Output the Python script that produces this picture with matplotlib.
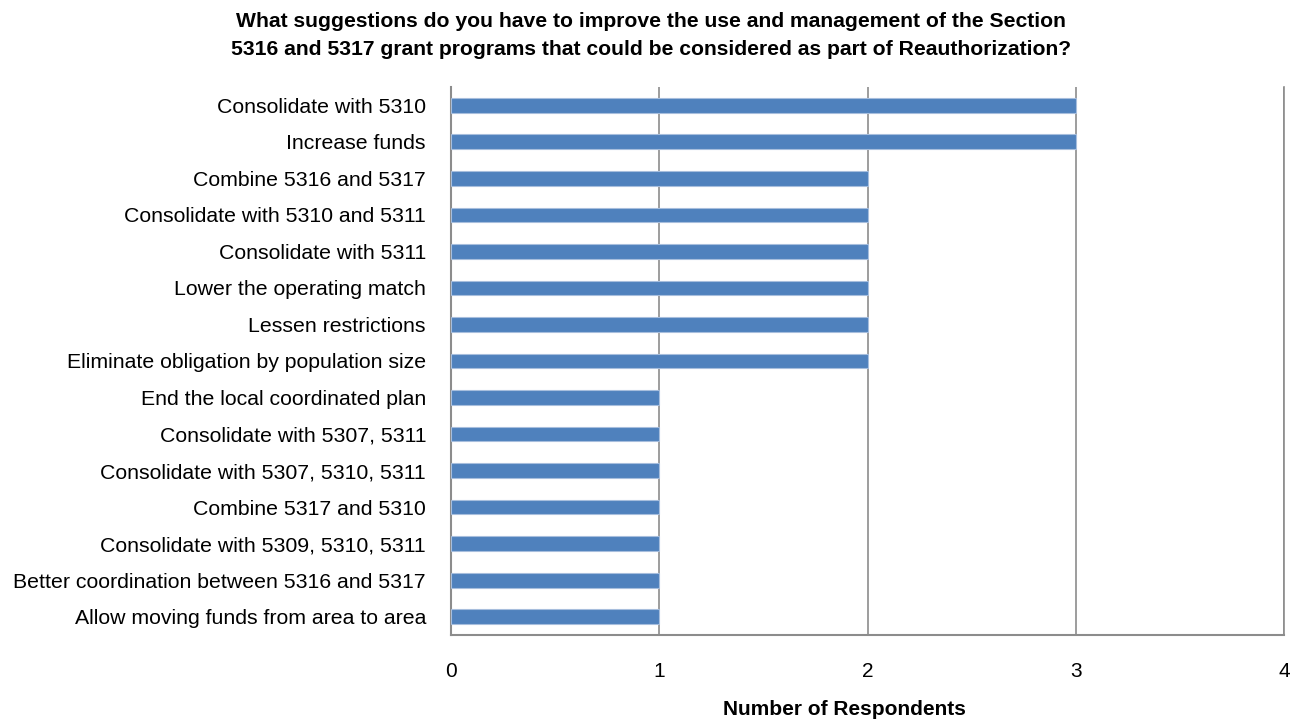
import matplotlib
matplotlib.use("Agg")
import matplotlib.pyplot as plt

categories = [
    "Consolidate with 5310",
    "Increase funds",
    "Combine 5316 and 5317",
    "Consolidate with 5310 and 5311",
    "Consolidate with 5311",
    "Lower the operating match",
    "Lessen restrictions",
    "Eliminate obligation by population size",
    "End the local coordinated plan",
    "Consolidate with 5307, 5311",
    "Consolidate with 5307, 5310, 5311",
    "Combine 5317 and 5310",
    "Consolidate with 5309, 5310, 5311",
    "Better coordination between 5316 and 5317",
    "Allow moving funds from area to area",
]
values = [3, 3, 2, 2, 2, 2, 2, 2, 1, 1, 1, 1, 1, 1, 1]
xticks = [0, 1, 2, 3, 4]

plt.rcParams['font.family'] = ['Liberation Sans', 'DejaVu Sans']

fig = plt.figure(figsize=(12.91, 7.21), dpi=100)
ax = fig.add_axes([451/1291, 1-635/721, (1284-451)/1291, (635-87)/721])

ypos = list(range(len(categories)))
ax.barh(ypos, values, height=0.4, color="#4F81BD", edgecolor="#A7BEDD", linewidth=0.8, zorder=3)
ax.set_ylim(len(categories)-0.5, -0.5)
ax.set_xlim(0, 4)
ax.set_yticks(ypos)
ax.set_yticklabels(categories, fontsize=15.3)
ax.set_xticks(xticks)
ax.set_xticklabels([str(t) for t in xticks], fontsize=15)
ax.tick_params(axis='both', length=0)
ax.tick_params(axis='x', pad=19.5)
ax.tick_params(axis='y', pad=18)
ax.xaxis.grid(True, color="#8C8C8C", linewidth=1.2, zorder=0)
ax.spines['top'].set_visible(False)
ax.spines['right'].set_color("#8C8C8C")
ax.spines['right'].set_linewidth(1.2)
for s in ['left', 'bottom']:
    ax.spines[s].set_color("#8C8C8C")
    ax.spines[s].set_linewidth(1.5)

fig.text(844/1291, 1-715/721, "Number of Respondents", ha='center', va='baseline',
         fontsize=15, fontweight='bold')

fig.text(651/1291, 1-27/721,
         "What suggestions do you have to improve the use and management of the Section",
         ha='center', va='baseline', fontsize=15.2, fontweight='bold')
fig.text(651/1291, 1-55/721,
         "5316 and 5317 grant programs that could be considered as part of Reauthorization?",
         ha='center', va='baseline', fontsize=15.2, fontweight='bold')

fig.savefig("out.png", dpi=100)
